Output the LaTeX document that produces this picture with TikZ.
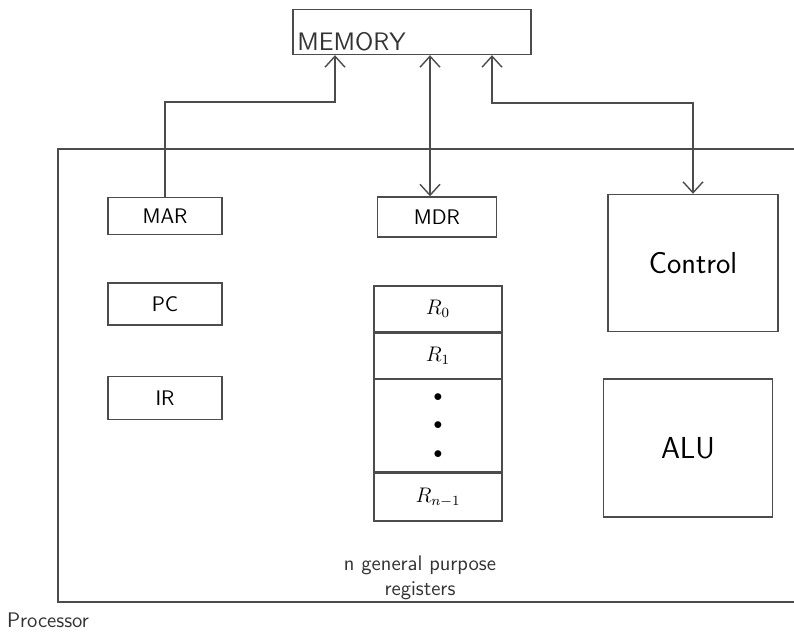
\documentclass[tikz,border=0pt]{standalone}
\usepackage{tikz}
\usetikzlibrary{arrows.meta, positioning}
\tikzstyle{unit} = [rectangle, 
draw=black!70, 
thick, 
inner sep=0pt, 
font=\sffamily\large]
\tikzstyle{reg} = [rectangle, 
draw=black!70, 
thick, 
minimum width=2.28cm, 
inner sep=0pt, 
font=\sffamily\large]
\tikzstyle{bank} = [rectangle, 
draw=black!70, 
thick, 
minimum width=2.56cm, 
inner sep=0pt, 
font=\large]
\tikzstyle{arrow} = [thick, black!70, -{Straight Barb[length=2.2mm, width=4mm]}]
\tikzstyle{darrow} = [thick, black!70, {Straight Barb[length=2.2mm, width=4mm]}-{Straight Barb[length=2.2mm, width=4mm]}]

\begin{document}
\begin{tikzpicture}[x=0.02cm, y=-0.02cm]
        \useasboundingbox (0,0) rectangle (794,641);

        % --- Memory ---
        \node (memory) [unit, minimum width=4.76cm, minimum height=0.9cm] at (412,32) {};
        \node (memtext) [anchor=south west, inner sep=1pt, font=\sffamily\Large, black!80, xshift=0.06cm, yshift=0.04cm] at (memory.south west) {MEMORY};

        % --- Processor frame ---
        \draw [thick, black!70] (794,149) -- (58,149) -- (58,602) -- (794,602);

        % --- Registers on the left ---
        \node (mar) [reg, minimum height=0.74cm] at (165,216) {MAR};
        \node (pc) [reg, minimum height=0.84cm] at (165,304) {PC};
        \node (ir) [reg, minimum height=0.86cm] at (165,398) {IR};

        % --- MDR and register bank ---
        \node (mdr) [unit, minimum width=2.38cm, minimum height=0.8cm] at (437,217) {MDR};
        \node (r0) [bank, minimum height=0.92cm] at (438,309) {$R_0$};
        \node (r1) [bank, minimum height=0.9cm, below=0pt of r0] {$R_1$};
        \node (dots) [bank, minimum height=1.84cm, below=0pt of r1, align=center, font=\normalsize] {$\bullet$\\[0.15cm]$\bullet$\\[0.15cm]$\bullet$};
        \node (rn) [bank, minimum height=0.96cm, below=0pt of dots] {$R_{n-1}$};
        \node (gpr) [align=center, font=\sffamily\large, black!80] at (420,578) {n general purpose\\registers};

        % --- Control and ALU ---
        \node (control) [unit, minimum width=3.4cm, minimum height=2.74cm, font=\sffamily\LARGE] at (693,263) {Control};
        \node (alu) [unit, minimum width=3.38cm, minimum height=2.76cm, font=\sffamily\LARGE] at (688,448) {ALU};

        \node (proc) [font=\sffamily\large, black!80] at (48,620) {Processor};

        % --- Conexiones ---
        \coordinate (bendL) at (335,102);
        \coordinate (bendR) at (492,103);
        \draw [arrow] (mar.north) |- (bendL) -- (bendL |- memory.south);
        \draw [darrow] (memory.south -| 430,0) -- (mdr.north -| 430,0);
        \draw [darrow] (bendR |- memory.south) -- (bendR) -| (control.north);

    \end{tikzpicture}
\end{document}
